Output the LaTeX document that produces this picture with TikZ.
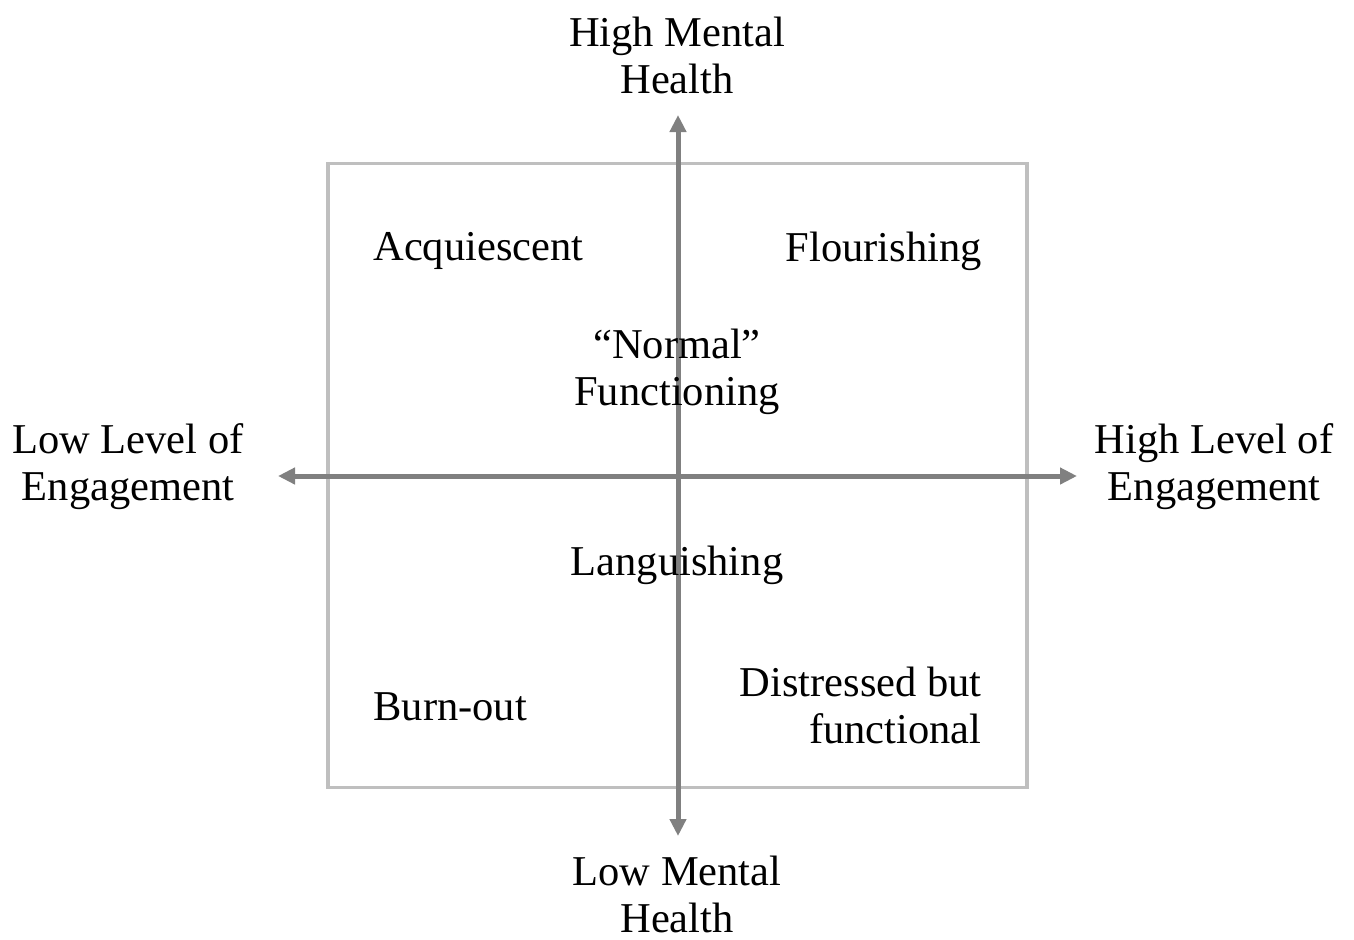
\documentclass[tikz,border=0pt]{standalone}
\usepackage{fontspec}
\setmainfont{Liberation Serif}
\usetikzlibrary{arrows.meta}
\begin{document}
\begin{tikzpicture}[x=0.5pt,y=-0.5pt,
  lbl/.style={inner sep=0pt,font=\fontsize{21.25pt}{23.5pt}\selectfont,align=center},
  axis/.style={draw=black!50,line width=2.5pt,-{Triangle[length=8.5pt,width=8pt]}},
  frame/.style={draw=black!25,line width=1.6pt}]
\useasboundingbox (0,0) rectangle (1354,939);
\node[frame,minimum width=349.5pt,minimum height=312pt,inner sep=0pt] (box) at (677.5,475.5) {};
\coordinate (c) at (678,476);
\coordinate (top) at (678,115);
\coordinate (bot) at (678,836);
\coordinate (lft) at (278,476);
\coordinate (rgt) at (1077,476);
\draw[axis] (c) -- (top);
\draw[axis] (c) -- (bot);
\draw[axis] (c) -- (lft);
\draw[axis] (c) -- (rgt);
\node[lbl] (hmh) at (677,55) {High Mental\\Health};
\node[lbl] (lmh) at (677,894) {Low Mental\\Health};
\node[lbl] (lle) at (128,467) {Low Level of\\Engagement};
\node[lbl] (hle) at (1214,467) {High Level of\\Engagement};
\node[lbl,anchor=west] (acq) at (373,251) {Acquiescent};
\node[lbl,anchor=east] (flo) at (982,251) {Flourishing};
\node[lbl] (nor) at (677,372) {``Normal''\\Functioning};
\node[lbl] (lan) at (677,565) {Languishing};
\node[lbl,anchor=west] (bur) at (373,707) {Burn-out};
\node[lbl,anchor=east,align=right] (dis) at (982,705) {Distressed but\\functional};
\end{tikzpicture}
\end{document}
